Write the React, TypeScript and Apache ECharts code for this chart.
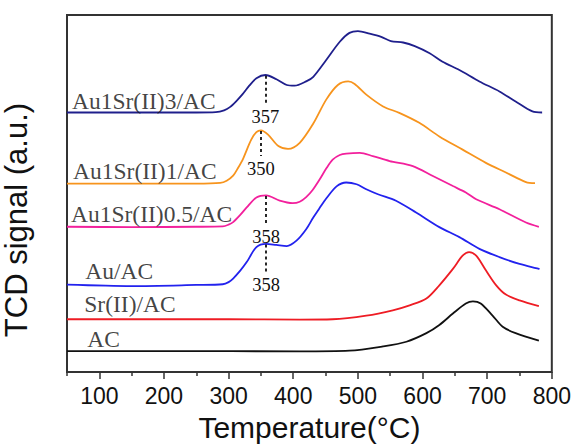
import React, { useEffect, useRef } from "react";
import * as echarts from "echarts";

// Temperature (°C) / TCD signal (a.u.) pairs
const au1sr3: [number, number][] = [
  [50, 72.7], [150, 72.7], [250, 72.7], [280, 72.8], [293, 73.3], [302, 74.2], [312, 75.9], [322, 77.9],
  [332, 80.2], [343, 82.3], [357, 83.2], [374, 82.0], [390, 80.4], [402, 80.2], [420, 81.4],
  [431, 82.7], [451, 87.4], [472, 92.5], [487, 95.0], [500, 95.5], [518, 94.8], [536, 93.9],
  [551, 92.7], [570, 92.3], [588, 91.3], [611, 89.3], [631, 86.9], [657, 84.6], [688, 81.4],
  [719, 78.6], [744, 75.8], [770, 73.0], [785, 72.7],
];
const au1sr1: [number, number][] = [
  [50, 52.8], [150, 52.8], [250, 52.8], [287, 53.0], [297, 53.6], [307, 55.0], [315, 57.3], [322, 59.6],
  [335, 65.1], [343, 67.2], [350, 67.7], [361, 66.5], [377, 63.3], [392, 62.5], [410, 64.2],
  [431, 69.6], [451, 76.3], [469, 80.4], [485, 81.4], [495, 80.7], [513, 77.7], [539, 74.4],
  [564, 72.6], [595, 69.8], [626, 66.0], [662, 62.3], [698, 58.6], [729, 55.9], [760, 53.2],
  [774, 52.9],
];
const au1sr05: [number, number][] = [
  [50, 40.7], [150, 40.6], [250, 40.7], [291, 40.8], [300, 41.3], [307, 42.0], [318, 44.0], [328, 46.1],
  [343, 48.9], [358, 49.5], [379, 48.0], [399, 47.3], [410, 47.7], [420, 49.0], [430, 51.0],
  [441, 54.0], [451, 57.0], [461, 59.5], [472, 60.8], [482, 61.2], [503, 61.4], [523, 60.5],
  [549, 59.1], [585, 57.7], [616, 54.9], [647, 52.1], [667, 50.3], [683, 48.4], [719, 45.6],
  [760, 41.9], [780, 40.7],
];
const auAC: [number, number][] = [
  [50, 24.5], [150, 24.1], [250, 24.4], [291, 24.6], [300, 25.2], [307, 26.2], [318, 28.4], [328, 30.8],
  [343, 35.0], [358, 35.9], [374, 35.6], [390, 35.3], [405, 36.8], [420, 40.0], [431, 43.3],
  [441, 46.0], [451, 48.6], [467, 52.0], [482, 53.1], [498, 52.6], [513, 51.2], [531, 49.8],
  [559, 48.0], [590, 44.7], [626, 40.6], [657, 37.8], [688, 34.5], [719, 32.2], [750, 30.3],
  [781, 28.9],
];
const srAC: [number, number][] = [
  [50, 14.8], [200, 14.8], [300, 14.8], [410, 14.7], [461, 14.8], [513, 15.8], [554, 17.3], [580, 18.7],
  [606, 20.6], [626, 24.3], [647, 28.9], [662, 32.6], [672, 33.6], [683, 32.6], [698, 28.5],
  [714, 24.3], [729, 21.7], [750, 20.1], [780, 18.5],
];
const acAC: [number, number][] = [
  [50, 5.9], [200, 5.9], [410, 5.8], [487, 6.0], [539, 7.2], [575, 8.5], [606, 10.9], [626, 13.2],
  [647, 16.4], [667, 19.2], [678, 19.8], [690, 19.2], [708, 15.9], [724, 12.7], [744, 10.9],
  [780, 8.8],
];

const seriesNames = ["Au1Sr(II)3/AC", "Au1Sr(II)1/AC", "Au1Sr(II)0.5/AC", "Au/AC", "Sr(II)/AC", "AC"];
const seriesColors = ["#1f1f8c", "#f7941d", "#f2209c", "#2222ee", "#ee1c24", "#111111"];
const seriesData = [au1sr3, au1sr1, au1sr05, auAC, srAC, acAC];

// curve name labels: [T, signal] of the left-middle of each label
const nameLabelPos: [number, number][] = [
  [57.7, 75.8], [59.3, 56.4], [56.2, 44.3], [78.2, 28.2], [76.7, 19.1], [81.3, 9.4],
];

// peak markers: series index, temperature, top signal, bottom signal
const peakSeries = [0, 1, 2, 3];
const peakTemps = [357, 350, 358, 358];
const peakTop = [83.0, 67.5, 49.3, 35.7];
const peakBottom = [74.9, 60.5, 41.2, 28.0];

const majorTicks = [100, 200, 300, 400, 500, 600, 700, 800];
const minorTicks = [50, 150, 250, 350, 450, 550, 650, 750];

const SANS = "'Liberation Sans', Arial, sans-serif";
const SERIF = "'Liberation Serif', 'Times New Roman', serif";

export default function App() {
  const ref = useRef<HTMLDivElement>(null);
  useEffect(() => {
    if (!ref.current) return;
    const chart = echarts.init(ref.current, undefined, { renderer: "svg" });
    const lineSeries = seriesData.map((d, i) => {
      const pk = peakSeries.indexOf(i);
      const s: any = {
        type: "line",
        name: seriesNames[i],
        data: d,
        xAxisIndex: 0,
        showSymbol: false,
        symbol: "none",
        smooth: 0.3,
        lineStyle: { color: seriesColors[i], width: 1.8 },
        itemStyle: { color: seriesColors[i] },
        z: 3,
      };
      if (pk >= 0) {
        s.markLine = {
          silent: true,
          symbol: ["none", "none"],
          animation: false,
          lineStyle: { color: "#111", width: 1.8, type: [3, 3] },
          label: {
            show: true,
            position: "end",
            distance: 3,
            formatter: String(peakTemps[pk]),
            fontFamily: SERIF,
            fontSize: 18.5,
            color: "#111",
          },
          data: [[
            { coord: [peakTemps[pk], peakTop[pk]] },
            { coord: [peakTemps[pk], peakBottom[pk]] },
          ]],
        };
      }
      return s;
    });
    const labelSeries = {
      type: "scatter",
      xAxisIndex: 0,
      symbolSize: 0,
      silent: true,
      data: nameLabelPos.map((p, i) => ({ value: p, name: seriesNames[i] })),
      label: {
        show: true,
        position: "right",
        distance: 0,
        formatter: (p: any) => p.name,
        fontFamily: SERIF,
        fontSize: 23.5,
        color: "#111",
      },
      z: 4,
    };
    chart.setOption({
      animation: false,
      grid: {
        left: 67, right: 21, top: 15, bottom: 73,
        show: true, borderColor: "#333", borderWidth: 2, backgroundColor: "transparent",
      },
      xAxis: [
        {
          type: "value",
          min: 50,
          max: 800,
          interval: 50,
          name: "Temperature(°C)",
          nameLocation: "middle",
          nameGap: 35,
          nameTextStyle: { fontFamily: SANS, fontSize: 30, color: "#111" },
          axisLine: { show: false },
          splitLine: { show: false },
          axisTick: { show: true, length: 7, customValues: majorTicks, lineStyle: { color: "#333", width: 1.5 } },
          axisLabel: {
            show: true, customValues: majorTicks, margin: 12,
            fontFamily: SANS, fontSize: 23, color: "#111",
          },
        },
        {
          type: "value",
          min: 50,
          max: 800,
          interval: 50,
          position: "bottom",
          axisLine: { show: false },
          splitLine: { show: false },
          axisLabel: { show: false },
          axisTick: { show: true, length: 4, customValues: minorTicks, lineStyle: { color: "#333", width: 1.5 } },
        },
      ],
      yAxis: {
        type: "value",
        min: 0,
        max: 100,
        axisLine: { show: false },
        axisTick: { show: false },
        axisLabel: { show: false },
        splitLine: { show: false },
      },
      graphic: [
        {
          type: "text",
          x: 16.5,
          y: 220,
          rotation: Math.PI / 2,
          style: {
            text: "TCD signal (a.u.)",
            font: `31px ${SANS}`,
            fill: "#111",
            align: "center",
            verticalAlign: "middle",
          },
        },
      ],
      series: [...lineSeries, labelSeries],
    });
    return () => chart.dispose();
  }, []);
  return (
    <div
      ref={ref}
      style={{ position: "fixed", left: 0, top: 0, width: 574, height: 447, background: "#fff" }}
    />
  );
}
